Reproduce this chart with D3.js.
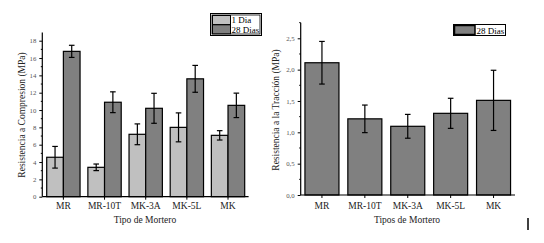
<!DOCTYPE html>
<html><head><meta charset="utf-8">
<script src="https://cdn.jsdelivr.net/npm/d3@7"></script>
<style>body{margin:0;background:#fff}svg text{font-family:"Liberation Serif","Times New Roman",Times,serif}</style>
</head><body>
<svg id="c" width="544" height="243"></svg>
<script>
const categories = ["MR","MR-10T","MK-3A","MK-5L","MK"];
const series = ["1 Dia","28 Dias"];
const comp1 = [4.55, 3.39, 7.2, 8.0, 7.08];
const comp1Err = [1.25, 0.38, 1.2, 1.67, 0.54];
const comp28 = [16.77, 10.9, 10.2, 13.6, 10.54];
const comp28Err = [0.7, 1.2, 1.73, 1.55, 1.41];
const trac28 = [2.11, 1.215, 1.096, 1.303, 1.51];
const trac28Err = [0.34, 0.22, 0.19, 0.24, 0.48];
const compTicks = [0,2,4,6,8,10,12,14,16,18];
const tracTicks = [0,0.5,1.0,1.5,2.0,2.5];
const colors = ["#c0c0c0","#808080"];
const FONT = "Liberation Serif";

const svg = d3.select("#c");
const fmt = d => d.toFixed(1).replace(".", ",");

// ---------- Left chart ----------
{
  const g = svg.append("g");
  const x0 = d3.scaleBand().domain(categories).range([42.8, 248.6]).paddingInner(0.19).paddingOuter(0.095);
  const x1 = d3.scaleBand().domain(series).range([0, x0.bandwidth()]);
  const y = d3.scaleLinear().domain([0, 18]).range([196.7, 40.7]);
  const yTop = y(18.95);

  const data = categories.map((c,i)=>[
    {c, s:series[0], v:comp1[i], e:comp1Err[i]},
    {c, s:series[1], v:comp28[i], e:comp28Err[i]}
  ]).flat();

  g.selectAll("rect.bar").data(data).join("rect").attr("class","bar")
    .attr("x", d=>x0(d.c)+x1(d.s)).attr("width", x1.bandwidth())
    .attr("y", d=>y(d.v)).attr("height", d=>y(0)-y(d.v))
    .attr("fill", d=>colors[series.indexOf(d.s)]).attr("stroke","#000").attr("stroke-width",1.2);

  const eb = g.selectAll("g.err").data(data).join("g").attr("class","err")
    .attr("transform", d=>`translate(${x0(d.c)+x1(d.s)+x1.bandwidth()/2},0)`);
  eb.append("line").attr("y1", d=>y(d.v+d.e)).attr("y2", d=>y(d.v-d.e)).attr("stroke","#000").attr("stroke-width",1.2);
  eb.append("line").attr("x1",-2.8).attr("x2",2.8).attr("y1", d=>y(d.v+d.e)).attr("y2", d=>y(d.v+d.e)).attr("stroke","#000").attr("stroke-width",1.2);
  eb.append("line").attr("x1",-2.8).attr("x2",2.8).attr("y1", d=>y(d.v-d.e)).attr("y2", d=>y(d.v-d.e)).attr("stroke","#000").attr("stroke-width",1.2);

  const ya = g.append("g").attr("transform","translate(42.3,0)")
    .call(d3.axisLeft(y).tickValues(compTicks).tickSize(3).tickPadding(3).tickFormat(d3.format("d")));
  ya.attr("font-family",FONT);
  ya.select(".domain").remove();
  ya.selectAll("text").attr("font-size",6.8).attr("fill","#555");
  ya.selectAll("line").attr("stroke","#000");
  g.append("g").selectAll("line").data(d3.range(1,19,2)).join("line")
    .attr("x1",40.8).attr("x2",42.3).attr("y1",d=>y(d)).attr("y2",d=>y(d)).attr("stroke","#000");
  g.append("line").attr("x1",42.3).attr("x2",42.3).attr("y1",yTop).attr("y2",y(0)).attr("stroke","#000").attr("stroke-width",1.2);

  const xa = g.append("g").attr("transform",`translate(0,${y(0)})`)
    .call(d3.axisBottom(x0).tickSize(3).tickPadding(3));
  xa.attr("font-family",FONT);
  xa.select(".domain").remove();
  xa.selectAll("text").attr("font-size",9.5).attr("fill","#222");
  g.append("line").attr("x1",42.3).attr("x2",248.6).attr("y1",y(0)).attr("y2",y(0)).attr("stroke","#000").attr("stroke-width",1.2);

  g.append("text").attr("font-family",FONT).attr("x",145).attr("y",223).attr("text-anchor","middle").attr("font-size",9.5).attr("fill","#222").text("Tipo de Mortero");
  g.append("text").attr("font-family",FONT).attr("transform","translate(25,115) rotate(-90)").attr("text-anchor","middle").attr("font-size",9.5).attr("fill","#222").text("Resistencia a Compresion (MPa)");

  const lg = g.append("g");
  lg.append("rect").attr("x",210.5).attr("y",13.5).attr("width",51).attr("height",22).attr("fill","#fff").attr("stroke","#000").attr("stroke-width",1);
  lg.append("rect").attr("x",212).attr("y",15).attr("width",48).attr("height",19).attr("fill","none").attr("stroke","#000").attr("stroke-width",0.8);
  series.forEach((s,i)=>{
    lg.append("rect").attr("x",212.5).attr("y",15.5+i*9.3).attr("width",18).attr("height",9).attr("fill",colors[i]).attr("stroke","#000").attr("stroke-width",1);
    lg.append("text").attr("font-family",FONT).attr("x",231.5).attr("y",23+i*9.5).attr("font-size",9).attr("fill","#000").text(s);
  });
}

// ---------- Right chart ----------
{
  const g = svg.append("g");
  const x = d3.scaleBand().domain(categories).range([300.5, 515]).paddingInner(0.207).paddingOuter(0.1035);
  const y = d3.scaleLinear().domain([0, 2.5]).range([195, 38.3]);
  const yTop = y(2.75);
  const data = categories.map((c,i)=>({c, v:trac28[i], e:trac28Err[i]}));

  g.selectAll("rect.bar").data(data).join("rect").attr("class","bar")
    .attr("x", d=>x(d.c)).attr("width", x.bandwidth())
    .attr("y", d=>y(d.v)).attr("height", d=>y(0)-y(d.v))
    .attr("fill", colors[1]).attr("stroke","#000").attr("stroke-width",1.2);

  const eb = g.selectAll("g.err").data(data).join("g").attr("class","err")
    .attr("transform", d=>`translate(${x(d.c)+x.bandwidth()/2},0)`);
  eb.append("line").attr("y1", d=>y(d.v+d.e)).attr("y2", d=>y(d.v-d.e)).attr("stroke","#000").attr("stroke-width",1.2);
  eb.append("line").attr("x1",-2.8).attr("x2",2.8).attr("y1", d=>y(d.v+d.e)).attr("y2", d=>y(d.v+d.e)).attr("stroke","#000").attr("stroke-width",1.2);
  eb.append("line").attr("x1",-2.8).attr("x2",2.8).attr("y1", d=>y(d.v-d.e)).attr("y2", d=>y(d.v-d.e)).attr("stroke","#000").attr("stroke-width",1.2);

  const ya = g.append("g").attr("transform","translate(300.7,0)")
    .call(d3.axisLeft(y).tickValues(tracTicks).tickSize(3).tickPadding(3).tickFormat(fmt));
  ya.attr("font-family",FONT);
  ya.select(".domain").remove();
  ya.selectAll("text").attr("font-size",6.8).attr("fill","#555");
  ya.selectAll("line").attr("stroke","#000");
  g.append("g").selectAll("line").data([0.25,0.75,1.25,1.75,2.25,2.75]).join("line")
    .attr("x1",299.2).attr("x2",300.7).attr("y1",d=>y(d)).attr("y2",d=>y(d)).attr("stroke","#000");
  g.append("line").attr("x1",300.7).attr("x2",300.7).attr("y1",yTop).attr("y2",y(0)).attr("stroke","#000").attr("stroke-width",1.2);

  const xa = g.append("g").attr("transform",`translate(0,${y(0)})`)
    .call(d3.axisBottom(x).tickSize(3).tickPadding(4));
  xa.attr("font-family",FONT);
  xa.select(".domain").remove();
  xa.selectAll("text").attr("font-size",9.5).attr("fill","#222");
  g.append("line").attr("x1",300.7).attr("x2",515).attr("y1",y(0)).attr("y2",y(0)).attr("stroke","#000").attr("stroke-width",1.2);

  g.append("text").attr("font-family",FONT).attr("x",407).attr("y",223).attr("text-anchor","middle").attr("font-size",9.5).attr("fill","#222").text("Tipos de Mortero");
  g.append("text").attr("font-family",FONT).attr("transform","translate(279,110) rotate(-90)").attr("text-anchor","middle").attr("font-size",9.5).attr("fill","#222").text("Resistencia a  la Tracción (MPa)");

  const lg = g.append("g");
  lg.append("rect").attr("x",453.5).attr("y",24.5).attr("width",52).attr("height",11).attr("fill","#fff").attr("stroke","#000").attr("stroke-width",1);
  lg.append("rect").attr("x",454.5).attr("y",25.5).attr("width",20.5).attr("height",9).attr("fill",colors[1]).attr("stroke","#000").attr("stroke-width",1.5);
  lg.append("text").attr("font-family",FONT).attr("x",476.5).attr("y",33.5).attr("font-size",9).attr("fill","#000").text(series[1]);

  g.append("line").attr("x1",528).attr("x2",528).attr("y1",218).attr("y2",230).attr("stroke","#000").attr("stroke-width",1.5);
}
</script>
</body></html>
